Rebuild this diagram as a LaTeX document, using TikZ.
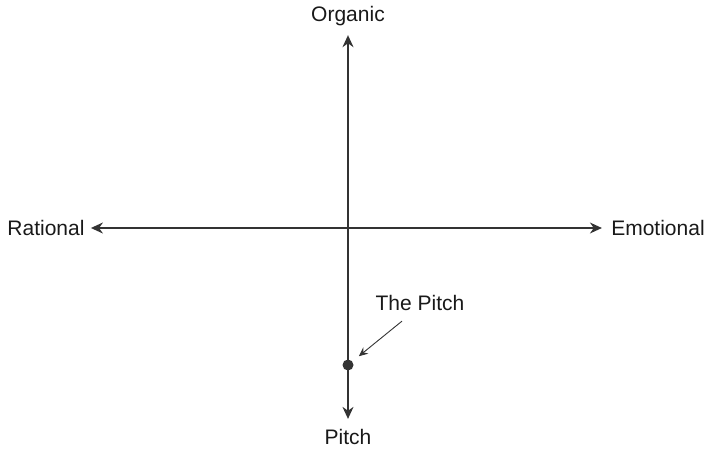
\documentclass[tikz,border=0pt]{standalone}
\usepackage{fontspec}
\setmainfont{Liberation Sans}
\usetikzlibrary{arrows.meta, positioning, calc}

\begin{document}
\begin{tikzpicture}[
    x=0.5pt, y=-0.5pt,
    label/.style={inner sep=2pt, font=\fontsize{10.5}{12}\selectfont, text=black!90},
    axis/.style={line width=0.75pt, draw=black!80, {Stealth[length=6pt,width=5.5pt]}-{Stealth[length=6pt,width=5.5pt]}},
    pointer/.style={line width=0.45pt, draw=black!80, -{Stealth[length=4.5pt,width=4pt]}},
    marker/.style={circle, fill=black!80, inner sep=0pt, minimum size=5.5pt}
]
\useasboundingbox (0,0) rectangle (707,449);

\node (organic) [label] at (348,16) {Organic};
\node (pitch) [label] at (348,437) {Pitch};
\node (rational) [label] at (46,228) {Rational};
\node (emotional) [label] at (658,228) {Emotional};
\node (dot) [marker] at (348,365) {};
\node (thepitch) [label] at (420,303) {The Pitch};

\draw [axis, shorten <=2.5pt, shorten >=3pt] (organic) -- (pitch);
\draw [axis, shorten <=1pt, shorten >=2.5pt] (rational) -- (emotional);
\draw [pointer, shorten >=4pt] ($(thepitch.south)+(-18,6)$) -- (dot);

\end{tikzpicture}
\end{document}
